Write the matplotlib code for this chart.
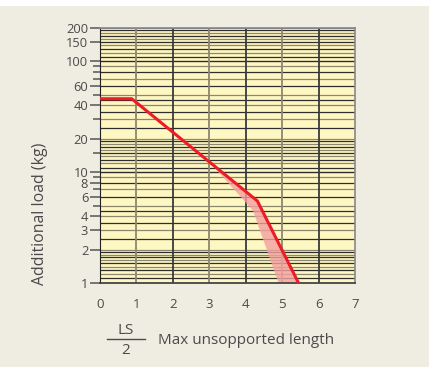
import matplotlib.pyplot as plt
from matplotlib.patches import Rectangle
from matplotlib.lines import Line2D

plt.rcParams['font.family'] = ['Open Sans', 'DejaVu Sans']

# load curve (x = LS/2, y = additional load in kg)
curve_x = [0, 0.87, 4.32, 5.45]
curve_y = [46, 46, 5.5, 1]
# lower edge of the shaded tolerance band
band_x = [3.0, 4.2, 4.9]
band_y = [12.4, 4.5, 1]

y_ticks = [1, 2, 3, 4, 6, 8, 10, 20, 40, 60, 100, 150, 200]
y_minor = [5, 7, 9, 15, 30, 50, 70, 80, 90]
x_ticks = [0, 1, 2, 3, 4, 5, 6, 7]

# graph paper rulings inside one decade
ruling = [1.1, 1.2, 1.3, 1.4, 1.5, 1.6, 1.7, 1.8, 1.9, 2, 2.5, 3, 3.5, 4, 4.5, 5, 6, 7, 8, 9]

bg = '#efece1'
txt = '#4a4a4a'

fig = plt.figure(figsize=(4.29, 3.67), dpi=100, facecolor=bg)
fig.patches.append(Rectangle((0, 361 / 367), 1, 6 / 367, transform=fig.transFigure,
                             facecolor='white', edgecolor='none', zorder=0))
ax = fig.add_axes([100 / 429, 84 / 367, 255 / 429, 255 / 367])
ax.set_facecolor('#fff7c2')
ax.set_yscale('log')
ax.set_xlim(0, 7)
ax.set_ylim(1, 200)

# horizontal rulings
k = 0
for dec in [1, 10, 100]:
    for r in ruling:
        v = r * dec
        if v >= 200:
            continue
        col = '#2e2e2e' if k % 2 == 0 else '#8c8870'
        ax.axhline(v, color=col, lw=0.9, zorder=1)
        k += 1
for dec in [10, 100]:
    ax.axhline(dec, color='#2e2e2e', lw=1.0, zorder=1)
ax.axhline(200, color='#555555', lw=1.2, zorder=1)

# vertical rulings
for i, xv in enumerate(x_ticks[1:-1]):
    col = '#8c8870' if i % 2 == 0 else '#3a3a3a'
    ax.axvline(xv, color=col, lw=1.3, zorder=1)

# shaded band + curve
poly_x = [band_x[0], curve_x[2], curve_x[3], band_x[2], band_x[1]]
poly_y = [band_y[0], curve_y[2], curve_y[3], band_y[2], band_y[1]]
ax.fill(poly_x, poly_y, color='#f4a0a0', alpha=0.8, lw=0, zorder=2)
ax.plot(curve_x, curve_y, color='#ee1c25', lw=2.2, zorder=3, solid_joinstyle='miter')

for s in ['top', 'right']:
    ax.spines[s].set_color('#888888')
    ax.spines[s].set_linewidth(1.2)
ax.spines['left'].set_color('#222222')
ax.spines['bottom'].set_color('#444444')
ax.spines['bottom'].set_linewidth(1.3)

ax.set_yticks(y_ticks)
ax.set_yticklabels([str(v) for v in y_ticks])
ax.set_yticks(y_minor, minor=True)
ax.yaxis.set_minor_formatter(plt.NullFormatter())
ax.tick_params(axis='y', which='major', length=7.5, width=1.1, color='#555555',
               labelsize=9.3, labelcolor=txt, pad=1)
ax.tick_params(axis='y', which='minor', length=5, width=1.1, color='#555555')
ax.set_xticks(x_ticks)
ax.tick_params(axis='x', length=0, pad=11, labelsize=9.5, labelcolor=txt)

fig.text(40 / 429, 1 - 214 / 367, 'Additional load (kg)', rotation=90, ha='center',
         va='center', fontsize=11.4, color=txt)

# x label with LS/2 fraction
fig.text(126 / 429, 1 - 330 / 367, 'LS', ha='center', va='center', fontsize=11, color=txt)
fig.text(126 / 429, 1 - 351 / 367, '2', ha='center', va='center', fontsize=11, color=txt)
fig.add_artist(Line2D([107 / 429, 145 / 429], [1 - 339 / 367, 1 - 339 / 367],
                      transform=fig.transFigure, color=txt, lw=1))
fig.text(158 / 429, 1 - 340 / 367, 'Max unsopported length', ha='left', va='center',
         fontsize=11, color=txt)

fig.savefig('out.png', dpi=100, facecolor=bg)
